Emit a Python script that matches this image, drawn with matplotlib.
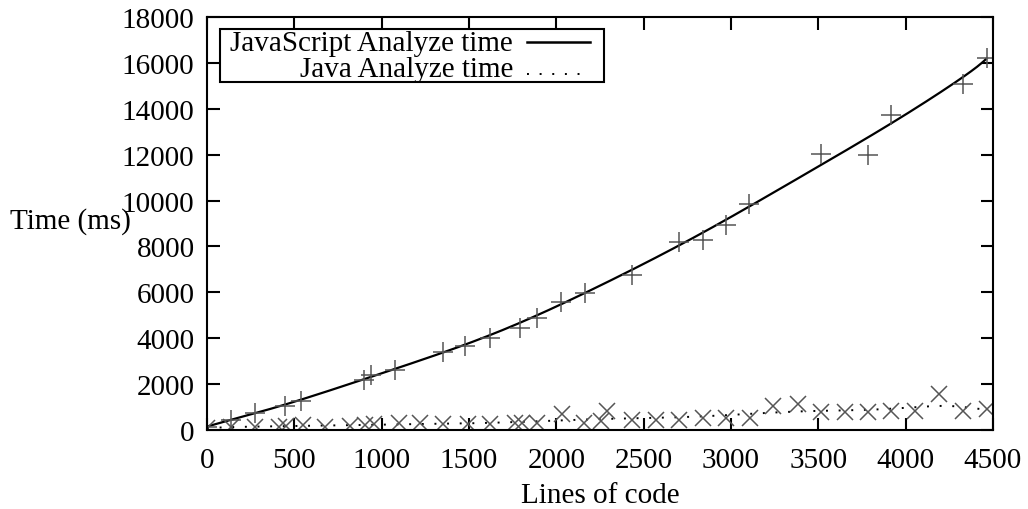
import math
import numpy as np
import matplotlib
matplotlib.use("Agg")
import matplotlib.pyplot as plt
import matplotlib.patches as patches

# JavaScript analyze time samples (+ markers)
js_lines = [0, 136, 273, 449, 537, 896, 940, 1077, 1354, 1479, 1622, 1794, 1890,
            2024, 2162, 2432, 2703, 2837, 2971, 3105, 3516, 3784, 3918, 4326, 4464]
js_time = [150, 450, 740, 1030, 1250, 2190, 2400, 2620, 3390, 3640, 4000, 4430, 4900,
           5560, 5960, 6750, 8200, 8270, 8930, 9870, 12040, 12000, 13710, 15090, 16200]

# Java analyze time samples (x markers)
java_lines = [0, 140, 275, 415, 453, 551, 677, 820, 906, 954, 1097, 1217, 1351, 1494,
              1619, 1763, 1802, 1888, 2032, 2157, 2253, 2292, 2435, 2569, 2703, 2837,
              2971, 3108, 3239, 3383, 3516, 3650, 3784, 3918, 4053, 4192, 4330, 4464]
java_time = [80, 150, 150, 150, 180, 220, 150, 180, 200, 250, 300, 300, 250, 250,
             260, 300, 300, 300, 700, 300, 400, 840, 450, 450, 450, 510,
             520, 520, 1060, 1120, 770, 770, 770, 840, 840, 1570, 840, 915]

xticks = list(range(0, 4501, 500))
yticks = list(range(0, 18001, 2000))
labels = ["JavaScript Analyze time", "Java Analyze time"]

FONT = "Liberation Serif"
FS = 21

# axes box in pixels
L, R, T, B = 207, 993, 18, 431


def bezier(xs, ys, n=300):
    # gnuplot style "smooth bezier" through all samples
    xs = np.asarray(xs, float)
    ys = np.asarray(ys, float)
    deg = len(xs) - 1
    t = np.linspace(0, 1, n)
    bx = np.zeros(n)
    by = np.zeros(n)
    for k in range(deg + 1):
        b = math.comb(deg, k) * t**k * (1 - t)**(deg - k)
        bx += b * xs[k]
        by += b * ys[k]
    return bx, by


def afrac(px, py):
    return (px - L) / (R - L), (B - py) / (B - T)


plt.rcParams["font.family"] = [FONT, "DejaVu Serif"]
plt.rcParams["font.size"] = FS

fig = plt.figure(figsize=(10.28, 5.10), dpi=100)
ax = fig.add_axes([L / 1028, 1 - B / 510, (R - L) / 1028, (B - T) / 510])

jx, jy = bezier(js_lines, js_time)
vx, vy = bezier(java_lines, java_time)
ax.plot(jx, jy, color="black", lw=1.6)
ax.plot(js_lines, js_time, ls="none", marker="+", ms=14, mew=1.1, color="#555555")
ax.plot(vx, vy, color="black", lw=1.4, ls=(0, (1, 5.5)))
ax.plot(java_lines, java_time, ls="none", marker="x", ms=11, mew=1.1, color="#555555")

ax.set_xlim(0, 4500)
ax.set_ylim(0, 18000)
ax.set_xticks(xticks)
ax.set_yticks(yticks)
ax.tick_params(direction="in", length=9, width=1.5, top=True, right=True,
               labelsize=FS)
ax.tick_params(axis="x", pad=12)
ax.tick_params(axis="y", pad=9)
for s in ax.spines.values():
    s.set_linewidth(1.5)

ax.set_xlabel("Lines of code", fontsize=FS, labelpad=7)
fig.text(10 / 1028, 1 - 222 / 510, "Time (ms)", fontsize=FS, ha="left", va="center")

# gnuplot-like key box
x0, y0 = afrac(220, 83)
x1, y1 = afrac(604, 30)
ax.add_patch(patches.Rectangle((x0, y0), x1 - x0, y1 - y0, transform=ax.transAxes,
                               facecolor="white", edgecolor="black", lw=1.5, zorder=5))
tx, _ = afrac(513, 0)
hx0, _ = afrac(527, 0)
hx1, _ = afrac(590, 0)
for lab, base, ly, style, lw in [(labels[0], 51, 43, "-", 1.8),
                                  (labels[1], 77, 75, (0, (1, 5.5)), 1.4)]:
    _, by = afrac(0, base)
    _, lyy = afrac(0, ly)
    ax.text(tx, by, lab, transform=ax.transAxes, ha="right", va="baseline",
            fontsize=FS, zorder=6)
    ax.plot([hx0, hx1], [lyy, lyy], transform=ax.transAxes, color="black",
            lw=lw, ls=style, zorder=6, clip_on=False)

fig.savefig("out.png", dpi=100)
